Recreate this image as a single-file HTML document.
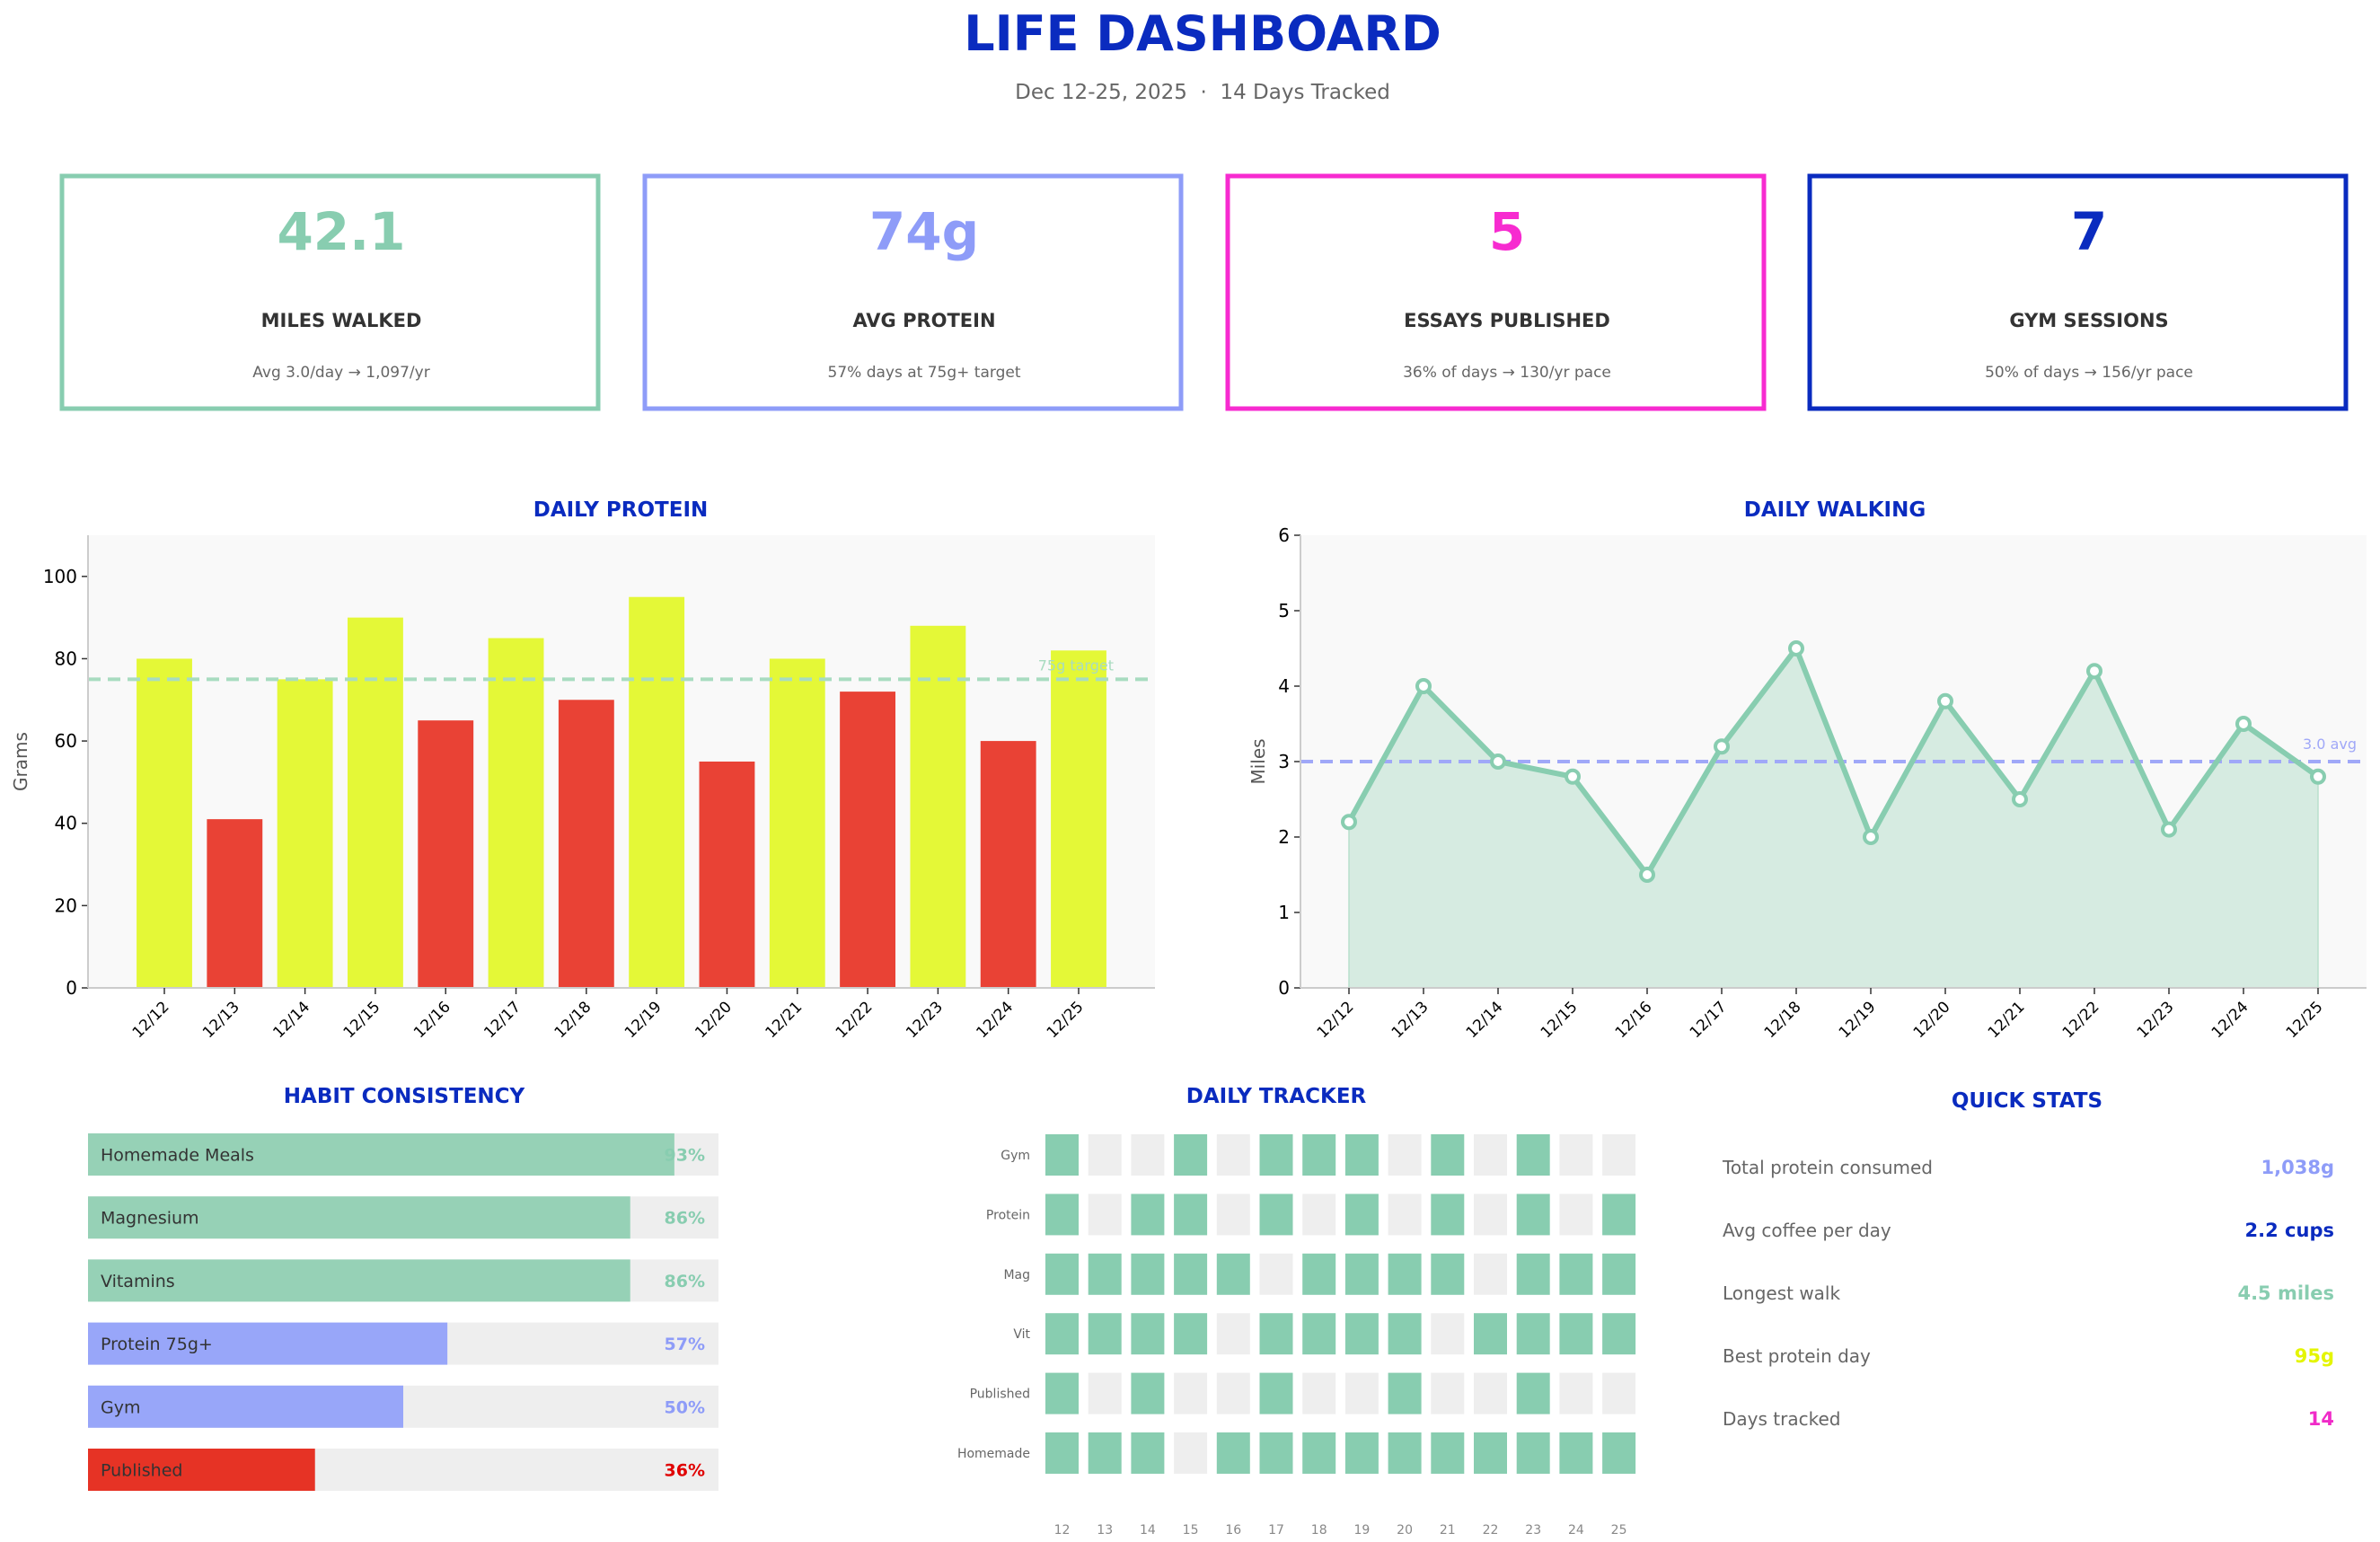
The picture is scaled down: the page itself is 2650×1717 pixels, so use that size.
<!DOCTYPE html>
<html><head><meta charset="utf-8"><style>
html,body{margin:0;padding:0;background:#fff;}
svg{display:block;font-family:"DejaVu Sans","Liberation Sans",sans-serif;}
</style></head><body>
<svg id="root" width="2650" height="1717" viewBox="0 0 2650 1717" xmlns="http://www.w3.org/2000/svg">
<rect width="2650" height="1717" fill="#fff"/>
<text x="1339" y="56" text-anchor="middle" font-size="54" font-weight="bold" fill="#0a2bbf">LIFE DASHBOARD</text>
<text x="1339" y="110" text-anchor="middle" font-size="23" fill="#666" xml:space="preserve">Dec 12-25, 2025  ·  14 Days Tracked</text>

<g>
<rect x="69" y="196" width="597" height="259" fill="#fff" stroke="#88cdb0" stroke-width="5"/>
<text x="380" y="278" text-anchor="middle" font-size="58" font-weight="bold" fill="#88cdb0">42.1</text>
<text x="380" y="364" text-anchor="middle" font-size="21" font-weight="bold" fill="#333">MILES WALKED</text>
<text x="380" y="420" text-anchor="middle" font-size="17" fill="#666">Avg 3.0/day → 1,097/yr</text>
</g>
<g>
<rect x="718" y="196" width="597" height="259" fill="#fff" stroke="#8e9cf8" stroke-width="5"/>
<text x="1029" y="278" text-anchor="middle" font-size="58" font-weight="bold" fill="#8e9cf8">74g</text>
<text x="1029" y="364" text-anchor="middle" font-size="21" font-weight="bold" fill="#333">AVG PROTEIN</text>
<text x="1029" y="420" text-anchor="middle" font-size="17" fill="#666">57% days at 75g+ target</text>
</g>
<g>
<rect x="1367" y="196" width="597" height="259" fill="#fff" stroke="#f72bd0" stroke-width="5"/>
<text x="1678" y="278" text-anchor="middle" font-size="58" font-weight="bold" fill="#f72bd0">5</text>
<text x="1678" y="364" text-anchor="middle" font-size="21" font-weight="bold" fill="#333">ESSAYS PUBLISHED</text>
<text x="1678" y="420" text-anchor="middle" font-size="17" fill="#666">36% of days → 130/yr pace</text>
</g>
<g>
<rect x="2015" y="196" width="597" height="259" fill="#fff" stroke="#0a2bbf" stroke-width="5"/>
<text x="2326" y="278" text-anchor="middle" font-size="58" font-weight="bold" fill="#0a2bbf">7</text>
<text x="2326" y="364" text-anchor="middle" font-size="21" font-weight="bold" fill="#333">GYM SESSIONS</text>
<text x="2326" y="420" text-anchor="middle" font-size="17" fill="#666">50% of days → 156/yr pace</text>
</g>

<g id="protein"></g>
<g id="walking"></g>
<g id="habits"></g>
<g id="tracker"></g>

<g>
<text x="2257" y="1233" text-anchor="middle" font-size="23" font-weight="bold" fill="#0a2bbf">QUICK STATS</text>
<text x="1918" y="1307" font-size="20" fill="#666">Total protein consumed</text>
<text x="2599" y="1307" text-anchor="end" font-size="21" font-weight="bold" fill="#8e9cf8">1,038g</text>
<text x="1918" y="1377" font-size="20" fill="#666">Avg coffee per day</text>
<text x="2599" y="1377" text-anchor="end" font-size="21" font-weight="bold" fill="#0a2bbf">2.2 cups</text>
<text x="1918" y="1447" font-size="20" fill="#666">Longest walk</text>
<text x="2599" y="1447" text-anchor="end" font-size="21" font-weight="bold" fill="#88cdb0">4.5 miles</text>
<text x="1918" y="1517" font-size="20" fill="#666">Best protein day</text>
<text x="2599" y="1517" text-anchor="end" font-size="21" font-weight="bold" fill="#e4f500">95g</text>
<text x="1918" y="1587" font-size="20" fill="#666">Days tracked</text>
<text x="2599" y="1587" text-anchor="end" font-size="21" font-weight="bold" fill="#f02bc8">14</text>
</g>
</svg>
<script>
const days = ["12/12","12/13","12/14","12/15","12/16","12/17","12/18","12/19","12/20","12/21","12/22","12/23","12/24","12/25"];
const protein = [80,41,75,90,65,85,70,95,55,80,72,88,60,82];
const proteinTarget = 75;
const proteinTicks = [0,20,40,60,80,100];
const miles = [2.2,4.0,3.0,2.8,1.5,3.2,4.5,2.0,3.8,2.5,4.2,2.1,3.5,2.8];
const milesAvg = 3.0;
const milesTicks = [0,1,2,3,4,5,6];
const habitNames = ["Homemade Meals","Magnesium","Vitamins","Protein 75g+","Gym","Published"];
const habitPct = [93,86,86,57,50,36];
const trackerRows = ["Gym","Protein","Mag","Vit","Published","Homemade"];
const trackerDays = ["12","13","14","15","16","17","18","19","20","21","22","23","24","25"];
const trackerGym = [1,0,0,1,0,1,1,1,0,1,0,1,0,0];
const trackerProtein = [1,0,1,1,0,1,0,1,0,1,0,1,0,1];
const trackerMag = [1,1,1,1,1,0,1,1,1,1,0,1,1,1];
const trackerVit = [1,1,1,1,0,1,1,1,1,0,1,1,1,1];
const trackerPublished = [1,0,1,0,0,1,0,0,1,0,0,1,0,0];
const trackerHomemade = [1,1,1,0,1,1,1,1,1,1,1,1,1,1];

const NS="http://www.w3.org/2000/svg";
function mk(parent,tag,attrs,text){const e=document.createElementNS(NS,tag);for(const k in attrs)e.setAttribute(k,attrs[k]);if(text!==undefined)e.textContent=text;parent.appendChild(e);return e;}

function axes(g,L,R,T,B,ymax,ticks,title,ylabel,titleX,ylOff){
  mk(g,"rect",{x:L,y:T,width:R-L,height:B-T,fill:"#f9f9f9"});
  const t=mk(g,"text",{x:titleX,y:575,"text-anchor":"middle","font-size":23,"font-weight":"bold",fill:"#0a2bbf"},title);
  
  
  const y=v=>B-(v/ymax)*(B-T);
  ticks.forEach(v=>{
    mk(g,"line",{x1:L-7,x2:L,y1:y(v),y2:y(v),stroke:"#333","stroke-width":1.5});
    const tl=mk(g,"text",{x:L-12,y:y(v)+7,"text-anchor":"end","font-size":20,fill:"#000"},String(v));
    
    
  });
  const yl=mk(g,"text",{x:0,y:0,"text-anchor":"middle","font-size":20,fill:"#555",transform:`translate(${L-ylOff},${(T+B)/2}) rotate(-90)`},ylabel);
  
  
  return y;
}
function xlabels(g,xs,B){
  days.forEach((d,i)=>{
    mk(g,"line",{x1:xs(i),x2:xs(i),y1:B,y2:B+7,stroke:"#333","stroke-width":1.5});
    const tl=mk(g,"text",{x:0,y:0,"text-anchor":"end","font-size":17,fill:"#000",transform:`translate(${xs(i)+6},${B+22}) rotate(-45)`},d);
    
    
  });
}
function spines(g,L,R,T,B){
  mk(g,"line",{x1:L,x2:L,y1:T,y2:B,stroke:"#ccc","stroke-width":2});
  mk(g,"line",{x1:L,x2:R,y1:B,y2:B,stroke:"#ccc","stroke-width":2});
}

// Protein chart
(function(){
  const g=document.getElementById("protein");
  const L=98,R=1286,T=596,B=1100,pad=85;
  const y=axes(g,L,R,T,B,110,proteinTicks,"DAILY PROTEIN","Grams",691,68);
  const step=(R-L-2*pad)/(days.length-1);
  const xs=i=>L+pad+i*step;
  const bw=step*0.79;
  protein.forEach((v,i)=>{
    const r=mk(g,"rect",{x:xs(i)-bw/2,y:y(v),width:bw,height:B-y(v),fill:v>=proteinTarget?"#e4f837":"#e94235"});
    
    
  });
  const tl=mk(g,"line",{x1:L,x2:R,y1:y(proteinTarget),y2:y(proteinTarget),stroke:"#a8dcc0","stroke-width":4,"stroke-dasharray":"14 8"});
  
  
  const lt=mk(g,"text",{x:1240,y:y(proteinTarget)-10,"text-anchor":"end","font-size":16,fill:"#a8dcc0"},"75g target");
  
  
  spines(g,L,R,T,B);
  xlabels(g,xs,B);
})();

// Walking chart
(function(){
  const g=document.getElementById("walking");
  const L=1448,R=2635,T=596,B=1100,pad=54;
  const y=axes(g,L,R,T,B,6,milesTicks,"DAILY WALKING","Miles",2043,40);
  const step=(R-L-2*pad)/(days.length-1);
  const xs=i=>L+pad+i*step;
  let d="M"+xs(0)+","+B;
  miles.forEach((v,i)=>{d+=" L"+xs(i)+","+y(v);});
  d+=" L"+xs(miles.length-1)+","+B+" Z";
  const area=mk(g,"path",{d:d,fill:"#d6ebe1",stroke:"#b8e0cc","stroke-width":1.5});
  
  
  const al=mk(g,"line",{x1:L,x2:R,y1:y(milesAvg),y2:y(milesAvg),stroke:"#a0a8f8","stroke-width":4,"stroke-dasharray":"14 8"});
  
  
  const at=mk(g,"text",{x:2624,y:y(milesAvg)-14,"text-anchor":"end","font-size":16,fill:"#a0a8f8"},milesAvg.toFixed(1)+" avg");
  
  
  const pts=miles.map((v,i)=>xs(i)+","+y(v)).join(" ");
  const ln=mk(g,"polyline",{points:pts,fill:"none",stroke:"#88cdb0","stroke-width":6,"stroke-linejoin":"round"});
  
  
  miles.forEach((v,i)=>{
    const c=mk(g,"circle",{cx:xs(i),cy:y(v),r:7,fill:"#fff",stroke:"#88cdb0","stroke-width":4});
    
    
  });
  spines(g,L,R,T,B);
  xlabels(g,xs,B);
})();

// Habits
(function(){
  const g=document.getElementById("habits");
  const t=mk(g,"text",{x:450,y:1228,"text-anchor":"middle","font-size":23,"font-weight":"bold",fill:"#0a2bbf"},"HABIT CONSISTENCY");
  
  
  const L=98,R=800,h=47,T0=1262,gap=70.2;
  const col=p=>p>=80?"#96d1b6":(p>=45?"#98a6f9":"#e63325");
  const tcol=p=>p>=80?"#88cdb0":(p>=45?"#8e9cf8":"#e00000");
  habitNames.forEach((n,i)=>{
    const y=T0+i*gap;
    mk(g,"rect",{x:L,y:y,width:R-L,height:h,fill:"#eeeeee"});
    const b=mk(g,"rect",{x:L,y:y,width:(R-L)*habitPct[i]/100,height:h,fill:col(habitPct[i])});
    
    
    mk(g,"text",{x:112,y:y+h/2+7,"font-size":19,fill:"#333"},n);
    mk(g,"text",{x:785,y:y+h/2+7,"text-anchor":"end","font-size":19,"font-weight":"bold",fill:tcol(habitPct[i])},habitPct[i]+"%");
  });
})();

// Tracker
(function(){
  const g=document.getElementById("tracker");
  const t=mk(g,"text",{x:1421,y:1228,"text-anchor":"middle","font-size":23,"font-weight":"bold",fill:"#0a2bbf"},"DAILY TRACKER");
  
  
  const rows=[trackerGym,trackerProtein,trackerMag,trackerVit,trackerPublished,trackerHomemade];
  const X0=1164,dx=47.7,cw=37,Y0=1263,dy=66.4,ch=46;
  rows.forEach((r,ri)=>{
    mk(g,"text",{x:1147,y:Y0+ri*dy+ch/2+5,"text-anchor":"end","font-size":14,fill:"#666"},trackerRows[ri]);
    r.forEach((v,ci)=>{
      const c=mk(g,"rect",{x:X0+ci*dx,y:Y0+ri*dy,width:cw,height:ch,fill:v?"#88cdb0":"#eeeeee"});
      
      
    });
  });
  trackerDays.forEach((d,ci)=>{
    mk(g,"text",{x:X0+ci*dx+cw/2,y:1708,"text-anchor":"middle","font-size":14,fill:"#888"},d);
  });
})();
</script>
</body></html>
